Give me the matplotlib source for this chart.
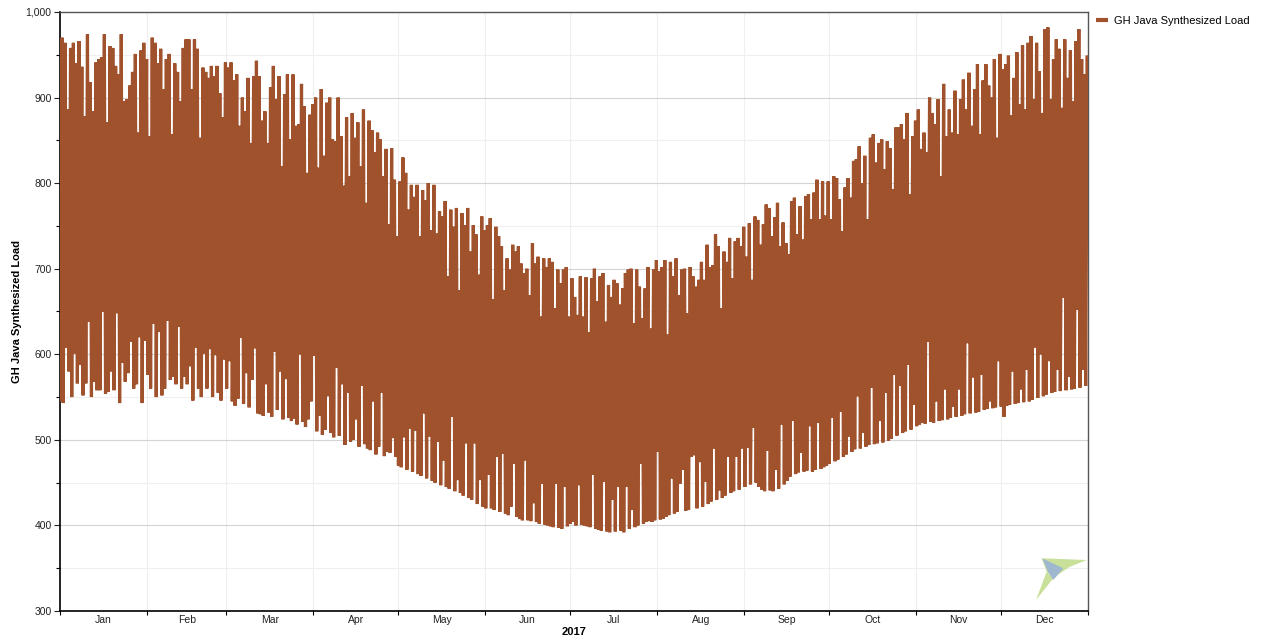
import numpy as np
import matplotlib
matplotlib.use("Agg")
import matplotlib.pyplot as plt
from matplotlib.patches import Polygon
from matplotlib.ticker import MultipleLocator, FixedLocator, FuncFormatter, NullFormatter

plt.rcParams['font.family'] = ['Liberation Sans', 'DejaVu Sans']

######################################################################
# data: daily peak / trough of the synthesized load
######################################################################

month_names = ['Jan', 'Feb', 'Mar', 'Apr', 'May', 'Jun', 'Jul', 'Aug', 'Sep', 'Oct', 'Nov', 'Dec']
month_days = [31, 28, 31, 30, 31, 30, 31, 31, 30, 31, 30, 31]
series_name = 'GH Java Synthesized Load'
year_label = '2017'

peak_jan = [970, 964, 886, 958, 964, 940, 966, 936, 878, 974, 918, 884, 941, 945, 947, 974,
            871, 960, 958, 937, 927, 974, 896, 898, 914, 930, 951, 859, 955, 964, 945]
peak_feb = [855, 970, 964, 940, 957, 910, 945, 951, 857, 940, 930, 896, 958, 968, 968, 910,
            968, 957, 853, 935, 930, 923, 937, 925, 937, 905, 877, 941]
peak_mar = [935, 941, 920, 927, 867, 900, 884, 923, 847, 925, 943, 925, 873, 884, 847, 912,
            937, 898, 925, 820, 904, 927, 851, 927, 867, 869, 916, 890, 812, 880, 892]
peak_apr = [900, 818, 910, 832, 894, 900, 851, 849, 900, 855, 797, 877, 808, 882, 853, 871,
            820, 886, 777, 873, 862, 836, 859, 851, 808, 840, 752, 841, 804, 738]
peak_may = [802, 830, 812, 769, 798, 784, 798, 738, 792, 780, 800, 745, 798, 741, 767, 761,
            779, 691, 769, 749, 771, 675, 765, 751, 771, 720, 751, 740, 693, 761, 745]
peak_jun = [751, 759, 664, 749, 738, 726, 675, 712, 699, 728, 720, 726, 706, 695, 700, 669,
            730, 706, 714, 644, 712, 702, 712, 708, 654, 699, 683, 699, 702, 644]
peak_jul = [689, 667, 646, 691, 644, 690, 626, 689, 700, 662, 691, 695, 638, 681, 667, 687,
            683, 658, 677, 695, 699, 700, 636, 699, 679, 642, 677, 702, 630, 699, 710]
peak_aug = [697, 702, 710, 623, 708, 691, 712, 669, 699, 700, 648, 702, 691, 679, 687, 708,
            687, 728, 702, 704, 740, 726, 654, 720, 708, 736, 689, 732, 736, 726, 749]
peak_sep = [714, 753, 687, 761, 757, 728, 752, 775, 771, 738, 760, 777, 726, 754, 730, 717,
            779, 783, 740, 773, 734, 785, 787, 758, 789, 804, 758, 802, 762, 802]
peak_oct = [758, 808, 806, 781, 744, 795, 806, 783, 826, 828, 843, 800, 832, 758, 853, 857,
            824, 847, 851, 816, 849, 841, 793, 865, 865, 869, 851, 882, 787, 855, 873]
peak_nov = [886, 840, 859, 836, 900, 882, 869, 898, 808, 916, 855, 886, 859, 908, 857, 898,
            921, 886, 929, 867, 910, 939, 857, 920, 939, 914, 900, 945, 853, 951]
peak_dec = [933, 939, 949, 879, 923, 953, 892, 961, 886, 964, 972, 898, 964, 931, 882, 980,
            982, 898, 945, 968, 957, 888, 968, 923, 955, 896, 966, 980, 945, 927, 949]

trough_jan = [545, 543, 608, 580, 550, 601, 566, 588, 552, 566, 638, 550, 568, 558, 558, 650,
              554, 556, 580, 558, 648, 543, 590, 568, 578, 615, 560, 565, 620, 543, 616]
trough_feb = [576, 560, 636, 550, 626, 552, 560, 639, 570, 574, 565, 632, 560, 574, 565, 586,
              546, 608, 560, 550, 601, 560, 606, 550, 599, 555, 546, 594]
trough_mar = [560, 592, 545, 540, 548, 619, 542, 578, 538, 570, 607, 531, 530, 528, 565, 532,
              527, 603, 535, 580, 524, 571, 526, 522, 525, 518, 600, 521, 515, 524, 545]
trough_apr = [598, 510, 528, 506, 512, 551, 508, 503, 584, 505, 565, 494, 555, 498, 500, 524,
              492, 563, 495, 490, 488, 545, 483, 492, 555, 481, 486, 485, 502, 480]
trough_may = [470, 468, 503, 465, 513, 463, 511, 460, 458, 531, 455, 504, 452, 450, 498, 447,
              476, 445, 443, 527, 440, 453, 438, 435, 496, 432, 430, 496, 425, 453, 422]
trough_jun = [420, 459, 420, 418, 480, 416, 484, 414, 412, 422, 472, 410, 408, 406, 476, 406,
              405, 426, 404, 402, 449, 401, 400, 399, 398, 449, 397, 396, 445, 399]
trough_jul = [402, 404, 400, 447, 401, 400, 399, 398, 459, 396, 395, 394, 451, 393, 392, 430,
              393, 445, 394, 392, 445, 396, 418, 398, 400, 472, 402, 404, 405, 404, 406]
trough_aug = [486, 407, 408, 410, 412, 455, 414, 416, 449, 465, 417, 418, 480, 482, 420, 474,
              422, 451, 425, 428, 490, 430, 441, 432, 435, 480, 438, 440, 480, 442, 490]
trough_sep = [445, 491, 448, 514, 450, 445, 442, 440, 487, 441, 440, 465, 443, 518, 448, 452,
              457, 522, 460, 462, 485, 463, 464, 516, 463, 465, 520, 466, 468, 470]
trough_oct = [472, 526, 475, 477, 533, 480, 483, 504, 486, 489, 551, 490, 508, 492, 494, 561,
              495, 496, 522, 497, 555, 499, 501, 576, 505, 563, 508, 510, 588, 512, 541]
trough_nov = [516, 518, 520, 519, 615, 521, 520, 545, 522, 523, 559, 524, 526, 539, 527, 559,
              528, 530, 613, 531, 573, 532, 533, 576, 535, 536, 545, 537, 538, 592]
trough_dec = [539, 527, 540, 541, 580, 542, 543, 559, 544, 582, 545, 547, 608, 549, 600, 551,
              553, 592, 555, 556, 582, 557, 666, 558, 574, 559, 560, 652, 561, 582, 563]
last_value = 775  # where the trace ends on Dec 31

peaks = (peak_jan + peak_feb + peak_mar + peak_apr + peak_may + peak_jun +
         peak_jul + peak_aug + peak_sep + peak_oct + peak_nov + peak_dec)
troughs = (trough_jan + trough_feb + trough_mar + trough_apr + trough_may + trough_jun +
           trough_jul + trough_aug + trough_sep + trough_oct + trough_nov + trough_dec)

######################################################################
# build the daily low/high trace (low around 4am, high around 6pm)
######################################################################

days = np.arange(len(peaks))
t = np.empty(2 * len(days) + 1)
v = np.empty(2 * len(days) + 1)
t[0:-1:2] = days + 4 / 24.0
t[1:-1:2] = days + 18 / 24.0
v[0:-1:2] = troughs
v[1:-1:2] = peaks
t[-1] = len(days)
v[-1] = last_value

month_edges = np.concatenate([[0], np.cumsum(month_days)])
month_mids = (month_edges[:-1] + month_edges[1:]) / 2.0

######################################################################
# plot
######################################################################

W, H = 1261, 636
fig = plt.figure(figsize=(W / 100.0, H / 100.0), dpi=100)
ax = fig.add_axes([60 / W, 1 - 611 / H, (1088 - 60) / W, (611 - 12) / H])

ax.plot(t, v, color='#A0522D', lw=2.3, solid_joinstyle='bevel', solid_capstyle='butt',
        label=series_name, zorder=3)

ax.set_xlim(0, month_edges[-1])
ax.set_ylim(300, 1000)

# y axis
ax.yaxis.set_major_locator(MultipleLocator(100))
ax.yaxis.set_minor_locator(MultipleLocator(50))
ax.yaxis.set_major_formatter(FuncFormatter(lambda x, p: '{:,.0f}'.format(x)))
ax.tick_params(axis='y', which='major', length=4, width=0.8, labelsize=7.5, pad=2, colors='#222222')
ax.tick_params(axis='y', which='minor', length=3, width=0.8)

# x axis: ticks on month edges, labels in the middle of the month
ax.xaxis.set_major_locator(FixedLocator(month_edges))
ax.xaxis.set_major_formatter(NullFormatter())
ax.xaxis.set_minor_locator(FixedLocator(month_mids))
ax.xaxis.set_minor_formatter(FuncFormatter(lambda x, p: month_names[p] if p < 12 else ''))
ax.tick_params(axis='x', which='major', length=3, width=0.8)
ax.tick_params(axis='x', which='minor', length=0, labelsize=7.5, pad=3, colors='#222222')

# grid
ax.grid(axis='y', which='major', color='#d4d4d4', lw=0.8, zorder=0)
ax.grid(axis='y', which='minor', color='#efefef', lw=0.8, zorder=0)
ax.grid(axis='x', which='major', color='#efefef', lw=0.8, zorder=0)
ax.set_axisbelow(True)

for side in ['left', 'bottom']:
    ax.spines[side].set_color('black')
    ax.spines[side].set_linewidth(1.2)
for side in ['top', 'right']:
    ax.spines[side].set_color('#555555')
    ax.spines[side].set_linewidth(1.0)

ax.set_ylabel(series_name, fontsize=8, fontweight='bold', labelpad=3)
ax.set_xlabel(year_label, fontsize=8, fontweight='bold', labelpad=1)

leg = ax.legend(loc='upper left', bbox_to_anchor=(1.0, 1.006), frameon=False,
                fontsize=8, handlelength=1.1, handletextpad=0.5, borderaxespad=0.3)
for line in leg.get_lines():
    line.set_linewidth(3)

# little kite watermark in the lower right corner (pixel coords)
def px(pts):
    return [(x / W, 1 - y / H) for x, y in pts]

fig.add_artist(Polygon(px([(1041.7, 558.3), (1086.7, 560), (1070, 566.7), (1055, 576.7), (1046.7, 571.7)]),
                       closed=True, fc='#c8e09a', ec='none', transform=fig.transFigure, zorder=5))
fig.add_artist(Polygon(px([(1046.7, 571.7), (1053.3, 578.3), (1036, 600)]),
                       closed=True, fc='#c8e09a', ec='none', transform=fig.transFigure, zorder=5))
fig.add_artist(Polygon(px([(1042.5, 558.5), (1063.3, 568.3), (1053.3, 580), (1048, 572)]),
                       closed=True, fc='#9fb8cf', ec='none', transform=fig.transFigure, zorder=6))

fig.savefig('out.png', dpi=100)
